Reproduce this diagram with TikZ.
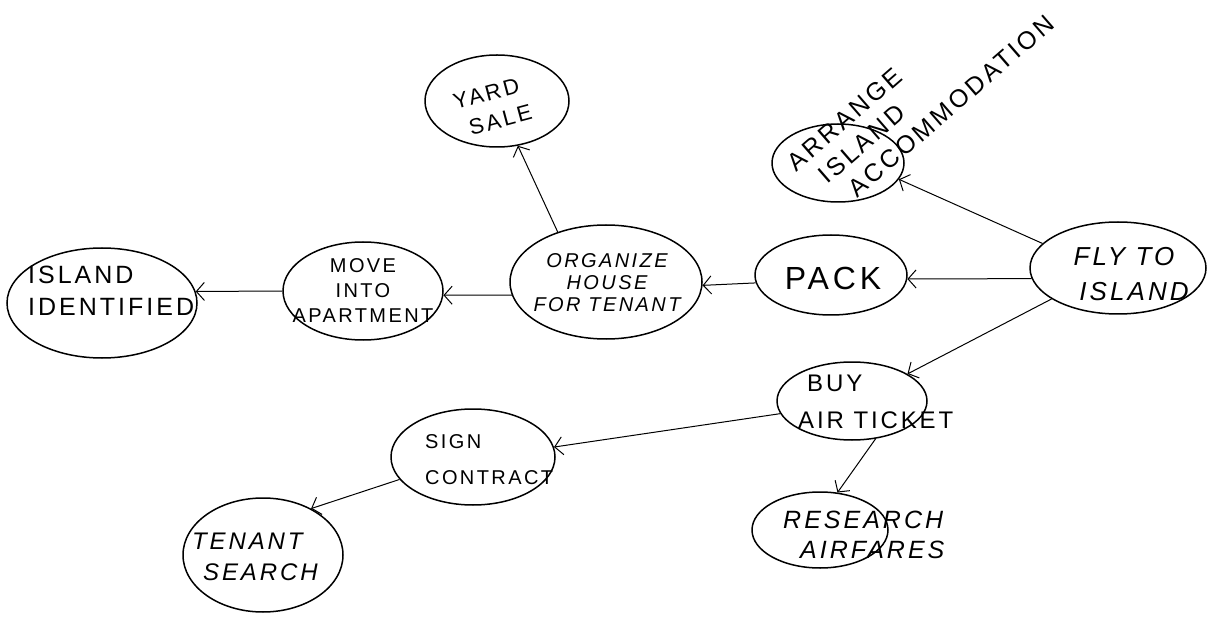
\documentclass[tikz,border=0pt]{standalone}
\usepackage{fontspec}
\newfontfamily\hand[LetterSpace=12]{Liberation Sans}
\usetikzlibrary{shapes.geometric,arrows.meta}
\newcommand\hfs[2]{\fontsize{#1}{#2}\selectfont}
\begin{document}
\begin{tikzpicture}[x=1pt,y=-1pt,
  bub/.style 2 args={ellipse,draw,line width=1.5pt,inner sep=0pt,minimum width=#1,minimum height=#2},
  txt/.style={inner sep=0pt},
  arr/.style={line width=1pt,-{Straight Barb[length=8pt,width=18pt,line width=1pt]}}]
\fill[white] (0,0) rectangle (1220,617);
\useasboundingbox (0,0) rectangle (1220,617);
% bubbles
\node[bub={190pt}{110pt}] (isl)  at (102,303) {};
\node[bub={160pt}{98pt}]  (move) at (363,291) {};
\node[bub={192pt}{114pt}] (org)  at (606,282) {};
\node[bub={152pt}{80pt}]  (pack) at (831,275) {};
\node[bub={176pt}{92pt}]  (fly)  at (1118,268) {};
\node[bub={144pt}{92pt}]  (yard) at (497,101) {};
\node[bub={132pt}{78pt}]  (arr)  at (838,163) {};
\node[bub={150pt}{78pt}]  (buy)  at (852,401) {};
\node[bub={136pt}{76pt}]  (res)  at (820,530) {};
\node[bub={164pt}{96pt}]  (sign) at (473,457) {};
\node[bub={160pt}{114pt}] (ten)  at (263,555) {};
% texts
\node[txt,font=\hand\hfs{25}{32},align=left,anchor=west] (isl-t) at (28,291) {ISLAND\\IDENTIFIED};
\node[txt,font=\hand\hfs{20}{25},align=center] (move-t) at (363,291) {MOVE\\INTO\\APARTMENT};
\node[txt,font=\hand\itshape\hfs{20}{22},align=center] (org-t) at (607,283) {ORGANIZE\\HOUSE\\FOR TENANT};
\node[txt,font=\hand\hfs{32}{36}] (pack-t) at (833,278) {PACK};
\node[txt,font=\hand\itshape\hfs{26}{35},align=center] (fly-t) at (1124,274) {FLY TO\\\hspace*{20pt}ISLAND};
\node[txt,font=\hand\hfs{22}{29},align=center,rotate=15] (yard-t) at (490,108) {YARD\\\hspace*{14pt}SALE};
\node[txt,font=\hand\hfs{25}{30},align=left,rotate=41,anchor=north west] (arr-t) at (785,159)
  {ARRANGE\\\hspace*{15pt}ISLAND\\\hspace*{29pt}ACCOMMODATION};
\node[txt,font=\hand\hfs{24}{37},align=left,anchor=west] (buy-t) at (798,402) {\hspace*{9pt}BUY\\AIR TICKET};
\node[txt,font=\hand\itshape\hfs{25}{30},align=left,anchor=west] (res-t) at (783,535) {RESEARCH\\\hspace*{17pt}AIRFARES};
\node[txt,font=\hand\hfs{20}{36},align=left,anchor=west] (sign-t) at (425,460) {SIGN\\CONTRACT};
\node[txt,font=\hand\itshape\hfs{24}{31},align=left,anchor=west] (ten-t) at (192,557) {TENANT\\\hspace*{11pt}SEARCH};
% connectors
\draw[arr] (org.134) -- (yard.-65);
\draw[arr] (fly.162) -- (arr.-15);
\draw[arr] (move.west) -- (isl.7);
\draw[arr] (org.188) -- (move.-3);
\draw[arr] (pack.186) -- (org.-2);
\draw[arr] (fly.187) -- (pack.-3);
\draw[arr] (fly.205) -- (buy.26);
\draw[arr] (buy.190) -- (sign.7);
\draw[arr] (sign.197) -- (ten.44);
\draw[arr] (buy.-58) -- (res.65);
\end{tikzpicture}
\end{document}
